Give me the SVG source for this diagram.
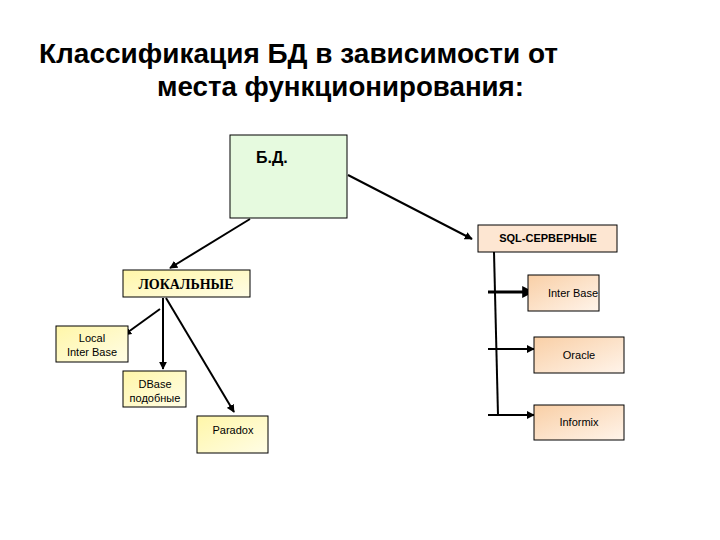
<svg xmlns="http://www.w3.org/2000/svg" width="720" height="540" viewBox="0 0 720 540">
<defs>
<linearGradient id="peach" x1="0" y1="0" x2="1" y2="1">
<stop offset="0" stop-color="#f9cfa6"/>
<stop offset="1" stop-color="#fff4ea"/>
</linearGradient>
<linearGradient id="yel" x1="0" y1="0" x2="1" y2="1">
<stop offset="0" stop-color="#fff6a8"/>
<stop offset="1" stop-color="#fffde6"/>
</linearGradient>
<marker id="ah" viewBox="0 0 10 10" refX="9" refY="5" markerWidth="4" markerHeight="4" orient="auto" markerUnits="strokeWidth">
<path d="M0,0 L10,5 L0,10 z" fill="#000"/>
</marker>
<style>
.box{stroke:#000;stroke-width:1}
.ar{stroke:#000;stroke-width:2;fill:none;marker-end:url(#ah)}
.t{font-family:"Liberation Sans",Arial,sans-serif;font-size:11px;fill:#000;text-anchor:middle}
.title{font-family:"Liberation Sans",Arial,sans-serif;font-size:27px;font-weight:bold;fill:#000}
</style>
</defs>
<rect width="720" height="540" fill="#fff"/>
<g id="title">
<text class="title" x="39" y="63" textLength="519" lengthAdjust="spacingAndGlyphs">Классификация БД в зависимости от</text>
<text class="title" x="157" y="96" textLength="367" lengthAdjust="spacingAndGlyphs">места функционирования:</text>
</g>
<g id="connectors">
<line class="ar" x1="348" y1="175" x2="472" y2="239"/>
<line class="ar" x1="250" y1="219" x2="170" y2="268"/>
<line class="ar" x1="160" y1="309" x2="124" y2="335"/>
<line class="ar" x1="163" y1="298" x2="163" y2="369"/>
<line class="ar" x1="166" y1="298" x2="234" y2="412"/>
<line stroke="#000" stroke-width="2" x1="494" y1="252" x2="498" y2="415"/>
<line class="ar" x1="488" y1="292" x2="533" y2="292" style="stroke-width:3"/>
<line class="ar" x1="488" y1="349" x2="534" y2="349"/>
<line class="ar" x1="488" y1="415" x2="534" y2="415"/>
</g>
<g id="bd">
<rect class="box" x="230" y="135" width="117" height="83" fill="#e6fadf"/>
<text x="256" y="163" style="font-family:'Liberation Sans',Arial,sans-serif;font-size:16px;font-weight:bold">Б.Д.</text>
</g>
<g id="sql">
<rect class="box" x="478" y="225" width="139" height="27" fill="#fde6d2"/>
<text class="t" x="548" y="242" style="font-weight:bold">SQL-СЕРВЕРНЫЕ</text>
</g>
<g id="local">
<rect class="box" x="123" y="270" width="127" height="27" fill="url(#yel)"/>
<text x="186" y="289" style="font-family:'Liberation Serif','Times New Roman',serif;font-size:14px;font-weight:bold;text-anchor:middle">ЛОКАЛЬНЫЕ</text>
</g>
<g id="localib">
<rect class="box" x="56" y="326" width="72" height="36" fill="url(#yel)"/>
<text class="t" x="92" y="342">Local</text>
<text class="t" x="92" y="356">Inter Base</text>
</g>
<g id="dbase">
<rect class="box" x="123" y="371" width="63" height="36" fill="url(#yel)"/>
<text class="t" x="155" y="388">DBase</text>
<text class="t" x="155" y="402">подобные</text>
</g>
<g id="paradox">
<rect class="box" x="197" y="416" width="71" height="37" fill="url(#yel)"/>
<text class="t" x="233" y="434">Paradox</text>
</g>
<g id="interbase">
<rect class="box" x="528" y="275" width="71" height="36" fill="url(#peach)"/>
<text class="t" x="573" y="297">Inter Base</text>
</g>
<g id="oracle">
<rect class="box" x="534" y="337" width="90" height="36" fill="url(#peach)"/>
<text class="t" x="579" y="359">Oracle</text>
</g>
<g id="informix">
<rect class="box" x="534" y="405" width="90" height="35" fill="url(#peach)"/>
<text class="t" x="579" y="426">Informix</text>
</g>
</svg>
